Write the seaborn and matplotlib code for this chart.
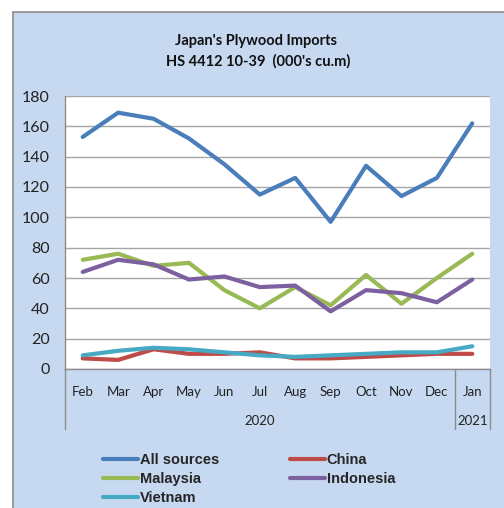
import pandas as pd
import matplotlib.pyplot as plt
import seaborn as sns
from matplotlib.patches import Rectangle
from matplotlib.lines import Line2D
import matplotlib.transforms as mtransforms

months = ["Feb", "Mar", "Apr", "May", "Jun", "Jul", "Aug", "Sep", "Oct", "Nov", "Dec", "Jan"]
years = ["2020"] * 11 + ["2021"]

all_sources = [153, 169, 165, 152, 135, 115, 126, 97, 134, 114, 126, 162]
china = [7, 6, 13, 10, 10, 11, 7, 7, 8, 9, 10, 10]
malaysia = [72, 76, 68, 70, 52, 40, 54, 42, 62, 43, 60, 76]
indonesia = [64, 72, 69, 59, 61, 54, 55, 38, 52, 50, 44, 59]
vietnam = [9, 12, 14, 13, 11, 9, 8, 9, 10, 11, 11, 15]

series = {
    "All sources": all_sources,
    "China": china,
    "Malaysia": malaysia,
    "Indonesia": indonesia,
    "Vietnam": vietnam,
}
colors = {
    "All sources": "#4A7EBB",
    "China": "#BE4B48",
    "Malaysia": "#98B954",
    "Indonesia": "#7D60A0",
    "Vietnam": "#46AAC5",
}

# long table for seaborn
rows = []
for name, vals in series.items():
    for i, v in enumerate(vals):
        rows.append({"pos": i, "value": v, "source": name})
df = pd.DataFrame(rows)

sns.set_theme(style="white")
plt.rcParams["font.family"] = ["Lato", "DejaVu Sans"]

fig = plt.figure(figsize=(5.04, 5.08), dpi=100)
fig.patch.set_facecolor("white")

# light blue chart panel, kept behind the axes
panel = Rectangle((13 / 504, -0.05), 1.1, 1 - 12 / 508 + 0.05,
                  transform=fig.transFigure, facecolor="#C6D9F1",
                  edgecolor="#8C8C8C", linewidth=1.2, zorder=-10)
fig.patches.append(panel)

ax = fig.add_axes([65 / 504, 1 - 369 / 508, 425 / 504, 273 / 508])
ax.set_facecolor("white")
ax.set_zorder(1)

sns.lineplot(data=df, x="pos", y="value", hue="source", hue_order=list(series.keys()),
             palette=colors, linewidth=3, legend=False, ax=ax, zorder=3)

ax.set_xlim(-0.5, 11.5)
ax.set_ylim(0, 180)
ax.set_yticks(range(0, 181, 20))
ax.yaxis.grid(True, color="#A6A6A6", linewidth=1)
ax.set_axisbelow(True)
ax.tick_params(axis="y", length=0, pad=11, labelsize=11.5, colors="#222222")
ax.set_xticks(range(len(months)))
ax.set_xticklabels(months)
ax.tick_params(axis="x", length=0, pad=12, labelsize=9.5, colors="#222222")
ax.set_xlabel("")
ax.set_ylabel("")
for s in ["top", "right"]:
    ax.spines[s].set_visible(False)
for s in ["left", "bottom"]:
    ax.spines[s].set_color("#8C8C8C")
    ax.spines[s].set_linewidth(1)

# year row and separators
trans = mtransforms.blended_transform_factory(ax.transData, ax.transAxes)
for xs in [-0.5, 10.5, 11.5]:
    ax.plot([xs, xs], [0, -0.22], color="#8C8C8C", linewidth=1,
            transform=trans, clip_on=False)
ax.text(5, -0.19, years[0], transform=trans, ha="center", va="center",
        fontsize=9.5, color="#222222")
ax.text(11, -0.19, years[-1], transform=trans, ha="center", va="center",
        fontsize=9.5, color="#222222")

fig.text(256 / 504, 1 - 41 / 508, "Japan's Plywood Imports", ha="center", va="center",
         fontsize=10.5, fontweight="bold", color="#111111")
fig.text(258 / 504, 1 - 61 / 508, "HS 4412 10-39  (000's cu.m)", ha="center", va="center",
         fontsize=10.5, fontweight="bold", color="#111111")

order = ["All sources", "Malaysia", "Vietnam", "China", "Indonesia"]
handles = [Line2D([], [], color=colors[n], linewidth=3) for n in order]
fig.legend(handles, order, loc="upper left", bbox_to_anchor=(90 / 504, 1 - 440 / 508),
           ncol=2, frameon=False, handlelength=2.4, handletextpad=0.1,
           columnspacing=4.9, labelspacing=0.35,
           prop={"family": "Liberation Sans", "weight": "bold", "size": 10.5})

fig.savefig("out.png", dpi=100)
